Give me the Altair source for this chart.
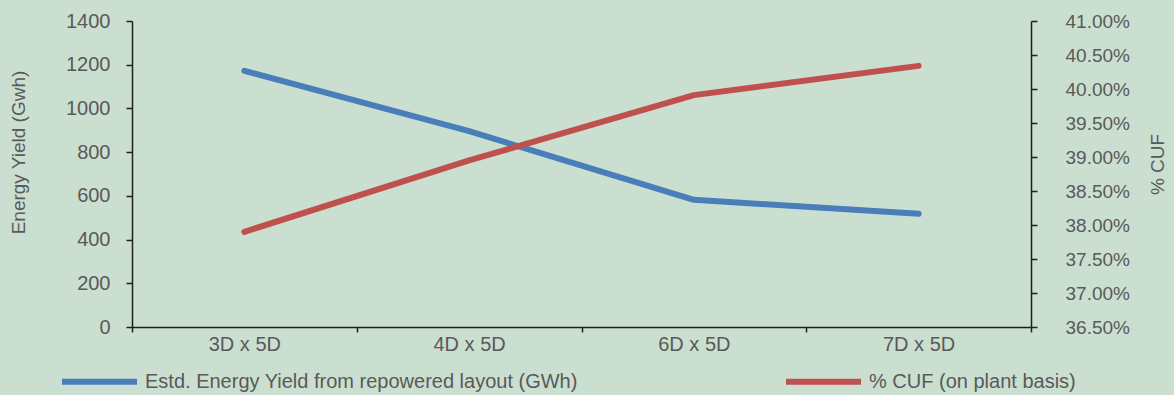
import altair as alt
import pandas as pd

# Turbine spacing layouts on the category axis
layouts = ["3D x 5D", "4D x 5D", "6D x 5D", "7D x 5D"]

# Estimated annual energy yield per layout (GWh)
energy_gwh = [1172, 896, 582, 518]

# Capacity utilisation factor per layout (fraction)
cuf = [0.3790, 0.3895, 0.3991, 0.4034]

series_names = [
    "Estd. Energy Yield from repowered layout (GWh)",
    "% CUF (on plant basis)",
]
series_colors = ["#4A7EBB", "#C0504D"]

energy_ticks = [0, 200, 400, 600, 800, 1000, 1200, 1400]
cuf_ticks = [0.365, 0.37, 0.375, 0.38, 0.385, 0.39, 0.395, 0.40, 0.405, 0.41]

energy_df = pd.DataFrame({"layout": layouts, "value": energy_gwh, "series": series_names[0]})
cuf_df = pd.DataFrame({"layout": layouts, "value": cuf, "series": series_names[1]})

FONT = "Liberation Sans"
TEXT = "#595959"
AXIS = "#1f1f1f"
BG = "#CBDFD1"

x_enc = alt.X(
    "layout:N",
    sort=layouts,
    scale=alt.Scale(type="band", paddingInner=0, paddingOuter=0),
    axis=alt.Axis(
        title=None,
        labelAngle=0,
        tickBand="extent",
        tickSize=5,
        labelPadding=2,
        labelFontSize=20,
    ),
)

color_enc = alt.Color(
    "series:N",
    scale=alt.Scale(domain=series_names, range=series_colors),
    legend=alt.Legend(
        title=None,
        orient="none",
        direction="horizontal",
        legendX=-73,
        legendY=320,
        symbolType="stroke",
        symbolSize=5625,
        symbolStrokeWidth=6,
        labelOffset=5,
        labelFontSize=20,
        labelFont=FONT,
        labelColor=TEXT,
        labelLimit=600,
        columnPadding=196,
    ),
)

energy_line = alt.Chart(energy_df).mark_line(
    strokeWidth=6, strokeCap="round", strokeJoin="round"
).encode(
    x=x_enc,
    y=alt.Y(
        "value:Q",
        scale=alt.Scale(domain=[0, 1400], nice=False),
        axis=alt.Axis(
            values=energy_ticks,
            format="d",
            title="Energy Yield (Gwh)",
            titleX=-114,
            titleY=131,
            titleAngle=270,
            titleAlign="center",
            titleBaseline="middle",
            titleFontSize=19,
            tickSize=6,
            labelPadding=16,
            labelFontSize=20,
        ),
    ),
    color=color_enc,
)

cuf_line = alt.Chart(cuf_df).mark_line(
    strokeWidth=6, strokeCap="round", strokeJoin="round"
).encode(
    x=x_enc,
    y=alt.Y(
        "value:Q",
        scale=alt.Scale(domain=[0.365, 0.41], nice=False, zero=False),
        axis=alt.Axis(
            orient="right",
            values=cuf_ticks,
            format=".2%",
            title="% CUF",
            titleX=126,
            titleY=143,
            titleAngle=270,
            titleAlign="center",
            titleBaseline="middle",
            titleFontSize=19,
            tickSize=6,
            labelPadding=28,
            labelFontSize=19,
        ),
    ),
    color=color_enc,
)

chart = (
    alt.layer(energy_line, cuf_line)
    .resolve_scale(y="independent")
    .properties(
        width=899,
        height=306,
        autosize=alt.AutoSizeParams(type="none"),
        padding={"left": 132, "top": 21, "right": 143, "bottom": 68},
        background=BG,
    )
    .configure_view(stroke=None)
    .configure_axis(
        grid=False,
        domainColor=AXIS,
        domainWidth=1.5,
        tickColor=AXIS,
        tickWidth=1.5,
        labelFont=FONT,
        labelColor=TEXT,
        titleFont=FONT,
        titleColor=TEXT,
        titleFontWeight="normal",
    )
)

chart.save("out.html", embed_options={"renderer": "svg", "actions": False})
